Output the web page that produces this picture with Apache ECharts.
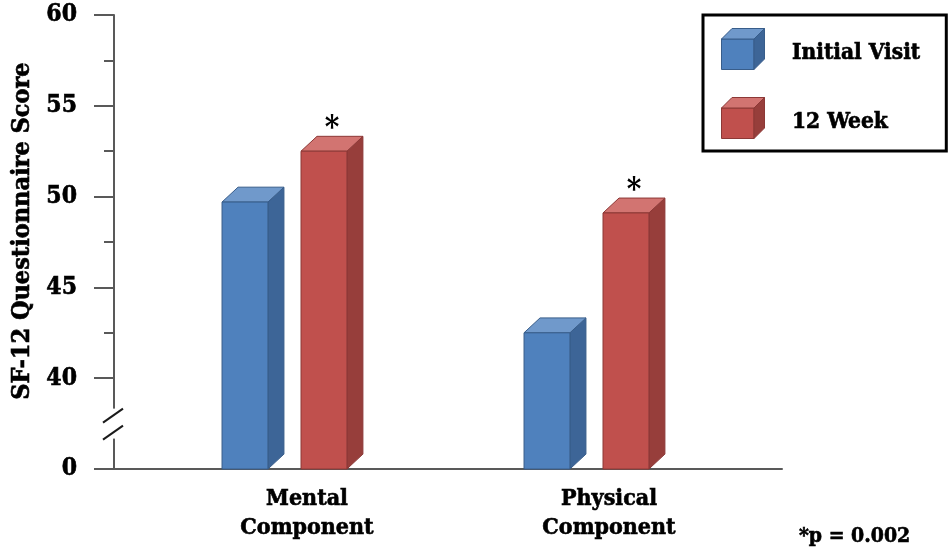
<!DOCTYPE html>
<html><head><meta charset="utf-8">
<script src="https://cdn.jsdelivr.net/npm/echarts@6/dist/echarts.min.js"></script>
<style>html,body{margin:0;padding:0;background:#fff}#c{width:948px;height:550px}</style>
</head><body><div id="c"></div>
<script>
// ---- data ----
const categories = ['Mental\nComponent', 'Physical\nComponent'];
const seriesNames = ['Initial Visit', '12 Week'];
const initialVisit = [49.7, 42.5];
const week12 = [52.5, 49.1];
const week12Marks = ['*', '*'];
const yMin = 35, yMax = 60, yStep = 5;   // lowest tick stands for the broken axis origin
const breakLabel = '0';
const yTitle = 'SF-12 Questionnaire Score';
const footnote = '*p = 0.002';

// ---- style ----
const FONT = '"DejaVu Serif Condensed", "DejaVu Serif", serif';
const AXIS = '#595959';
const palette = [
  {front:'#4F81BD', side:'#3D6597', top:'#7099CB', stroke:'#385D8A'},
  {front:'#C0504D', side:'#973E3B', top:'#D27471', stroke:'#8C3836'}
];
const GL = 114, GR = 948 - 782, GT = 15, GB = 81;
const heavy = {textBorderColor:'#000', textBorderWidth:0.6};

function cubeIcon(p){
  const svg = '<svg xmlns="http://www.w3.org/2000/svg" width="66" height="42" viewBox="0 0 66 42">' +
    '<path d="M0.5,11 L33,11 L33,41.5 L0.5,41.5 Z" fill="'+p.front+'" stroke="'+p.stroke+'"/>' +
    '<path d="M0.5,11 L11,0.5 L43.5,0.5 L33,11 Z" fill="'+p.top+'" stroke="'+p.stroke+'"/>' +
    '<path d="M33,11 L43.5,0.5 L43.5,31 L33,41.5 Z" fill="'+p.side+'" stroke="'+p.stroke+'"/></svg>';
  return 'image://data:image/svg+xml;charset=utf-8,' + encodeURIComponent(svg);
}

function makeRender(si){
  return function(params, api){
    const cat = api.value(0), val = api.value(1);
    const c = api.coord([cat, val]);
    const b = api.coord([cat, yMin]);
    const bw = api.size([1, 0])[0];
    const fw = bw * 0.152, dx = bw * 0.053, dy = dx * 0.93;
    const x0 = c[0] + (si === 0 ? -0.235 : 0.0265) * bw;
    const x1 = x0 + fw, yT = c[1], yB = b[1];
    const p = palette[si];
    const children = [
      {type:'polygon', shape:{points:[[x1,yB],[x1+dx,yB-dy],[x1+dx,yT-dy],[x1,yT]]}, style:{fill:p.side, stroke:p.stroke, lineWidth:1}},
      {type:'polygon', shape:{points:[[x0,yT],[x0+dx,yT-dy],[x1+dx,yT-dy],[x1,yT]]}, style:{fill:p.top, stroke:p.stroke, lineWidth:1}},
      {type:'rect', shape:{x:x0, y:yT, width:fw, height:yB-yT}, style:{fill:p.front, stroke:p.stroke, lineWidth:1}}
    ];
    if (si === 1 && week12Marks[params.dataIndex]) {
      children.push({type:'text', style:{text: week12Marks[params.dataIndex], x:(x0 + x1 + dx) / 2, y: yT - dy + 8,
        align:'center', verticalAlign:'bottom', fontSize:31, fontWeight:'bold', fontFamily:FONT, fill:'#000'}});
    }
    return {type:'group', children};
  };
}

const ctx = document.createElement('canvas').getContext('2d');
ctx.font = 'bold 22.5px ' + FONT;
const legendTextW = Math.max(...seriesNames.map(s => ctx.measureText(s).width));
const legendRightPad = Math.max(4, 946 - (703 + 18 + 71 + legendTextW));

const chart = echarts.init(document.getElementById('c'), null, {renderer:'canvas'});
const lbl = Object.assign({fontSize:23, fontWeight:'bold', fontFamily:FONT, color:'#000'}, heavy);
const legendText = Object.assign({fontSize:22.5, fontWeight:'bold', fontFamily:FONT, color:'#000'}, heavy);
chart.setOption({
  animation:false,
  backgroundColor:'#fff',
  title:{text:footnote, left:799, top:526, padding:0, textStyle:Object.assign({fontSize:21, fontWeight:'bold', fontFamily:FONT, color:'#000'}, heavy)},
  legend:{
    orient:'vertical', left:703, top:15, padding:[13, legendRightPad, 12, 18],
    itemWidth:66, itemHeight:42, itemGap:27, selectedMode:false,
    borderColor:'#000', borderWidth:3,
    formatter: n => '{t|' + n + '}',
    textStyle:Object.assign({}, legendText, {rich:{t:Object.assign({padding:[9,0,0,0]}, legendText)}}),
    data: seriesNames.map((n, i) => ({name:n, icon:cubeIcon(palette[i])}))
  },
  grid:[
    {left:GL, right:GR, top:GT, bottom:GB},
    {left:142, right:202, top:GT, bottom:GB}
  ],
  xAxis:[
    {type:'category', gridIndex:0, data:categories, axisLine:{show:true, lineStyle:{color:AXIS, width:2}}, axisTick:{show:false}, axisLabel:{show:false}},
    {type:'category', gridIndex:1, data:categories, axisLine:{show:false}, axisTick:{show:false},
      axisLabel:Object.assign({margin:16, lineHeight:29, padding:[0,0,0,28]}, lbl)}
  ],
  yAxis:[
    {type:'value', gridIndex:0, min:yMin, max:yMax, interval:yStep,
      axisLine:{show:true, lineStyle:{color:AXIS, width:2}},
      axisTick:{show:true, length:20, lineStyle:{color:AXIS, width:2}},
      minorTick:{show:true, splitNumber:2, length:10, lineStyle:{color:AXIS, width:2}},
      splitLine:{show:false},
      axisLabel:Object.assign({margin:37, formatter:v => v === yMin ? breakLabel : String(v)}, lbl, {fontSize:24.5}),
      name:yTitle, nameLocation:'middle', nameGap:78, nameRotate:90,
      nameTextStyle:Object.assign({fontSize:25, fontWeight:'bold', fontFamily:FONT, color:'#000', padding:[0,0,0,22]}, heavy)},
    {type:'value', gridIndex:1, min:yMin, max:yMax, interval:yStep, show:false}
  ],
  series: [initialVisit, week12].map((arr, si) => ({
    type:'custom', name:seriesNames[si], xAxisIndex:1, yAxisIndex:1,
    itemStyle:{color:palette[si].front},
    renderItem:makeRender(si),
    encode:{x:0, y:1},
    data:arr.map((v, i) => [i, v])
  }))
});

// axis break marks, placed from the y scale
const yb = chart.convertToPixel({yAxisIndex:0}, yMin + yStep / 2);
chart.setOption({graphic:[
  {type:'rect', z:100, shape:{x:GL-11, y:yb-15, width:14, height:30}, style:{fill:'#fff'}},
  {type:'line', z:101, shape:{x1:GL-11, y1:yb-1, x2:GL+9, y2:yb-15}, style:{stroke:'#1a1a1a', lineWidth:2}},
  {type:'line', z:101, shape:{x1:GL-11, y1:yb+16, x2:GL+9, y2:yb+2}, style:{stroke:'#1a1a1a', lineWidth:2}}
]});
</script></body></html>
